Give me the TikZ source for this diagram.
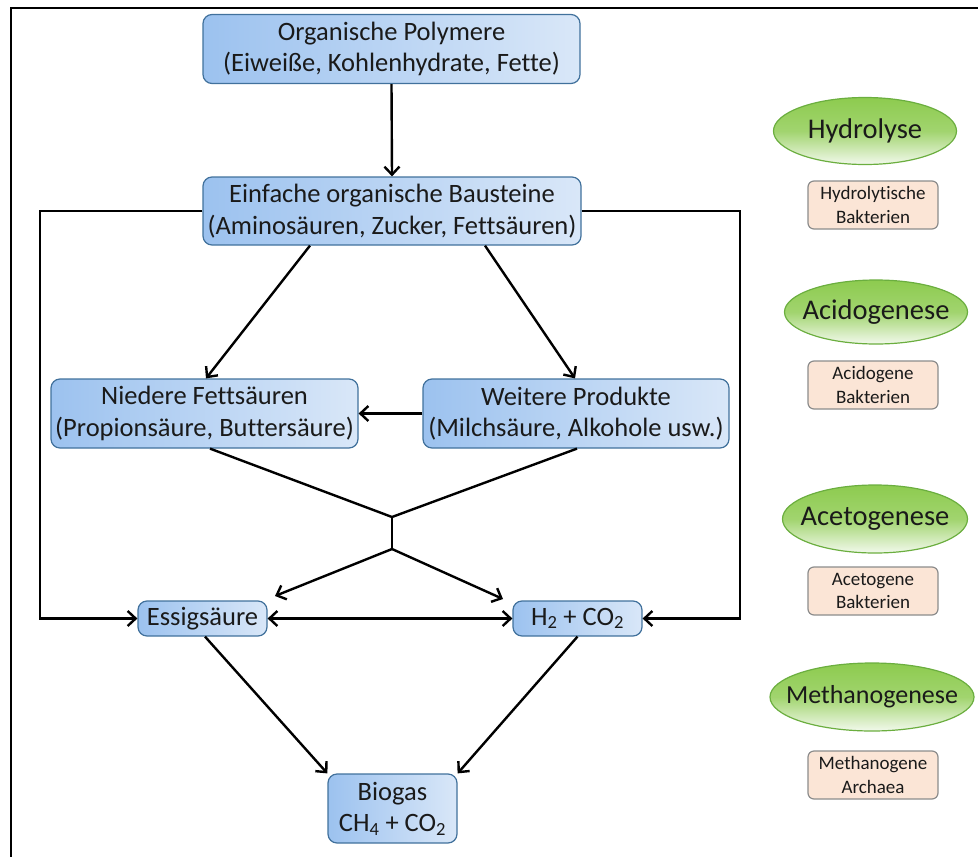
\documentclass[tikz,border=0pt]{standalone}
\usepackage{fontspec}
\setmainfont{Carlito}[Ligatures=NoCommon]
\usetikzlibrary{arrows.meta,shapes.geometric}

\definecolor{boxA}{HTML}{9CC2EF}
\definecolor{boxB}{HTML}{D9E7F8}
\definecolor{boxline}{HTML}{41719C}
\definecolor{greenA}{HTML}{8DCB4F}
\definecolor{greenB}{HTML}{F2F9EC}
\definecolor{greenline}{HTML}{6BAE3F}
\definecolor{peach}{HTML}{FBE5D6}
\definecolor{peachline}{HTML}{8C8C8C}
\definecolor{ink}{HTML}{1A1A1A}

\begin{document}
\begin{tikzpicture}[x=1pt,y=-1pt,
  stage/.style={draw=boxline, line width=1.2pt, rounded corners=9pt,
    left color=boxA, right color=boxB, inner sep=0pt, align=center,
    text=ink, font=\fontsize{26.5}{31.5}\selectfont},
  phase/.style={ellipse, draw=greenline, line width=1.2pt,
    top color=greenA, bottom color=greenB, middle color=greenA!80!greenB,
    inner sep=0pt, text=ink, font=\fontsize{28.5}{33}\selectfont},
  microbe/.style={draw=peachline, line width=1.2pt, rounded corners=6pt,
    fill=peach, inner sep=0pt, align=center, text=ink,
    font=\fontsize{19}{23.5}\selectfont,
    minimum width=130pt, minimum height=48pt},
  flow/.style={line width=2.4pt, draw=black,
    -{Straight Barb[length=8pt,width=15pt,line width=2.4pt]}},
  twoway/.style={line width=2.4pt, draw=black,
    {Straight Barb[length=8pt,width=15pt,line width=2.4pt]}-{Straight Barb[length=8pt,width=15pt,line width=2.4pt]}},
  plain/.style={line width=2.4pt, draw=black}]

\useasboundingbox (0,0) rectangle (978,857);

% frame
\draw[line width=2pt] (11,857) -- (11,8) -- (978,8);

% main flow boxes
\node[stage, minimum width=377pt, minimum height=69pt] (poly) at (391.5,49)
  {Organische Polymere\\(Eiweiße, Kohlenhydrate, Fette)};
\node[stage, minimum width=378pt, minimum height=68pt] (bau) at (392,211)
  {Einfache organische Bausteine\\(Aminosäuren, Zucker, Fettsäuren)};
\node[stage, minimum width=307pt, minimum height=69pt] (nied) at (204.5,413.5)
  {Niedere Fettsäuren\\(Propionsäure, Buttersäure)};
\node[stage, minimum width=306pt, minimum height=69pt] (weit) at (576,413.5)
  {Weitere Produkte\\(Milchsäure, Alkohole usw.)};
\node[stage, minimum width=129pt, minimum height=35pt] (essig) at (202.5,618.5)
  {Essigsäure};
\node[stage, minimum width=129pt, minimum height=35pt] (hco) at (577.5,618.5)
  {H\textsubscript{2} + CO\textsubscript{2}};
\node[stage, minimum width=129pt, minimum height=69pt] (bio) at (392.5,808.5)
  {Biogas\\CH\textsubscript{4} + CO\textsubscript{2}};

% phases and organisms (zero-width text so the ellipse keeps its set size)
\node[phase, minimum width=183pt, minimum height=67pt] (hyd) at (865,131)
  {\makebox[0pt]{Hydrolyse}};
\node[microbe] (hydb) at (873,205) {Hydrolytische\\Bakterien};
\node[phase, minimum width=183pt, minimum height=64pt] (acid) at (876,312)
  {\makebox[0pt]{Acidogenese}};
\node[microbe] (acidb) at (873,385) {Acidogene\\Bakterien};
\node[phase, minimum width=185pt, minimum height=68pt] (acet) at (875,519)
  {\makebox[0pt]{Acetogenese}};
\node[microbe] (acetb) at (873,591) {Acetogene\\Bakterien};
\node[phase, minimum width=204pt, minimum height=68pt,
  font=\fontsize{26}{31}\selectfont] (meth) at (872,697)
  {\makebox[0pt]{Methanogenese}};
\node[microbe] (methb) at (873,775) {Methanogene\\Archaea};

% connector corners
\coordinate (lc) at (40,211);
\coordinate (rc) at (740,211);
\coordinate (j1) at (392,517);
\coordinate (j2) at (392,549);
\coordinate (ea) at (275,596);
\coordinate (ha) at (503,599);

% connectors
\draw[flow] (poly.south) -- (bau.north);
\draw[flow] (bau.west) -- (lc) |- (essig.west);
\draw[flow] (bau.east) -- (rc) |- (hco.east);
\draw[flow] ([xshift=-82pt]bau.south) -- ([xshift=1.5pt]nied.north);
\draw[flow] ([xshift=93pt]bau.south) -- ([xshift=-1pt]weit.north);
\draw[flow] (weit.west) -- (nied.east);
\draw[plain] ([xshift=5.5pt]nied.south) -- (j1) -- ([xshift=1pt]weit.south);
\draw[plain] (j1) -- (j2);
\draw[flow] (j2) -- (ea);
\draw[flow] (j2) -- (ha);
\draw[twoway] (essig.east) -- (hco.west);
\draw[flow] ([xshift=2.5pt]essig.south) -- (bio.north west);
\draw[flow] (hco.south) -- (bio.north east);

\end{tikzpicture}
\end{document}
